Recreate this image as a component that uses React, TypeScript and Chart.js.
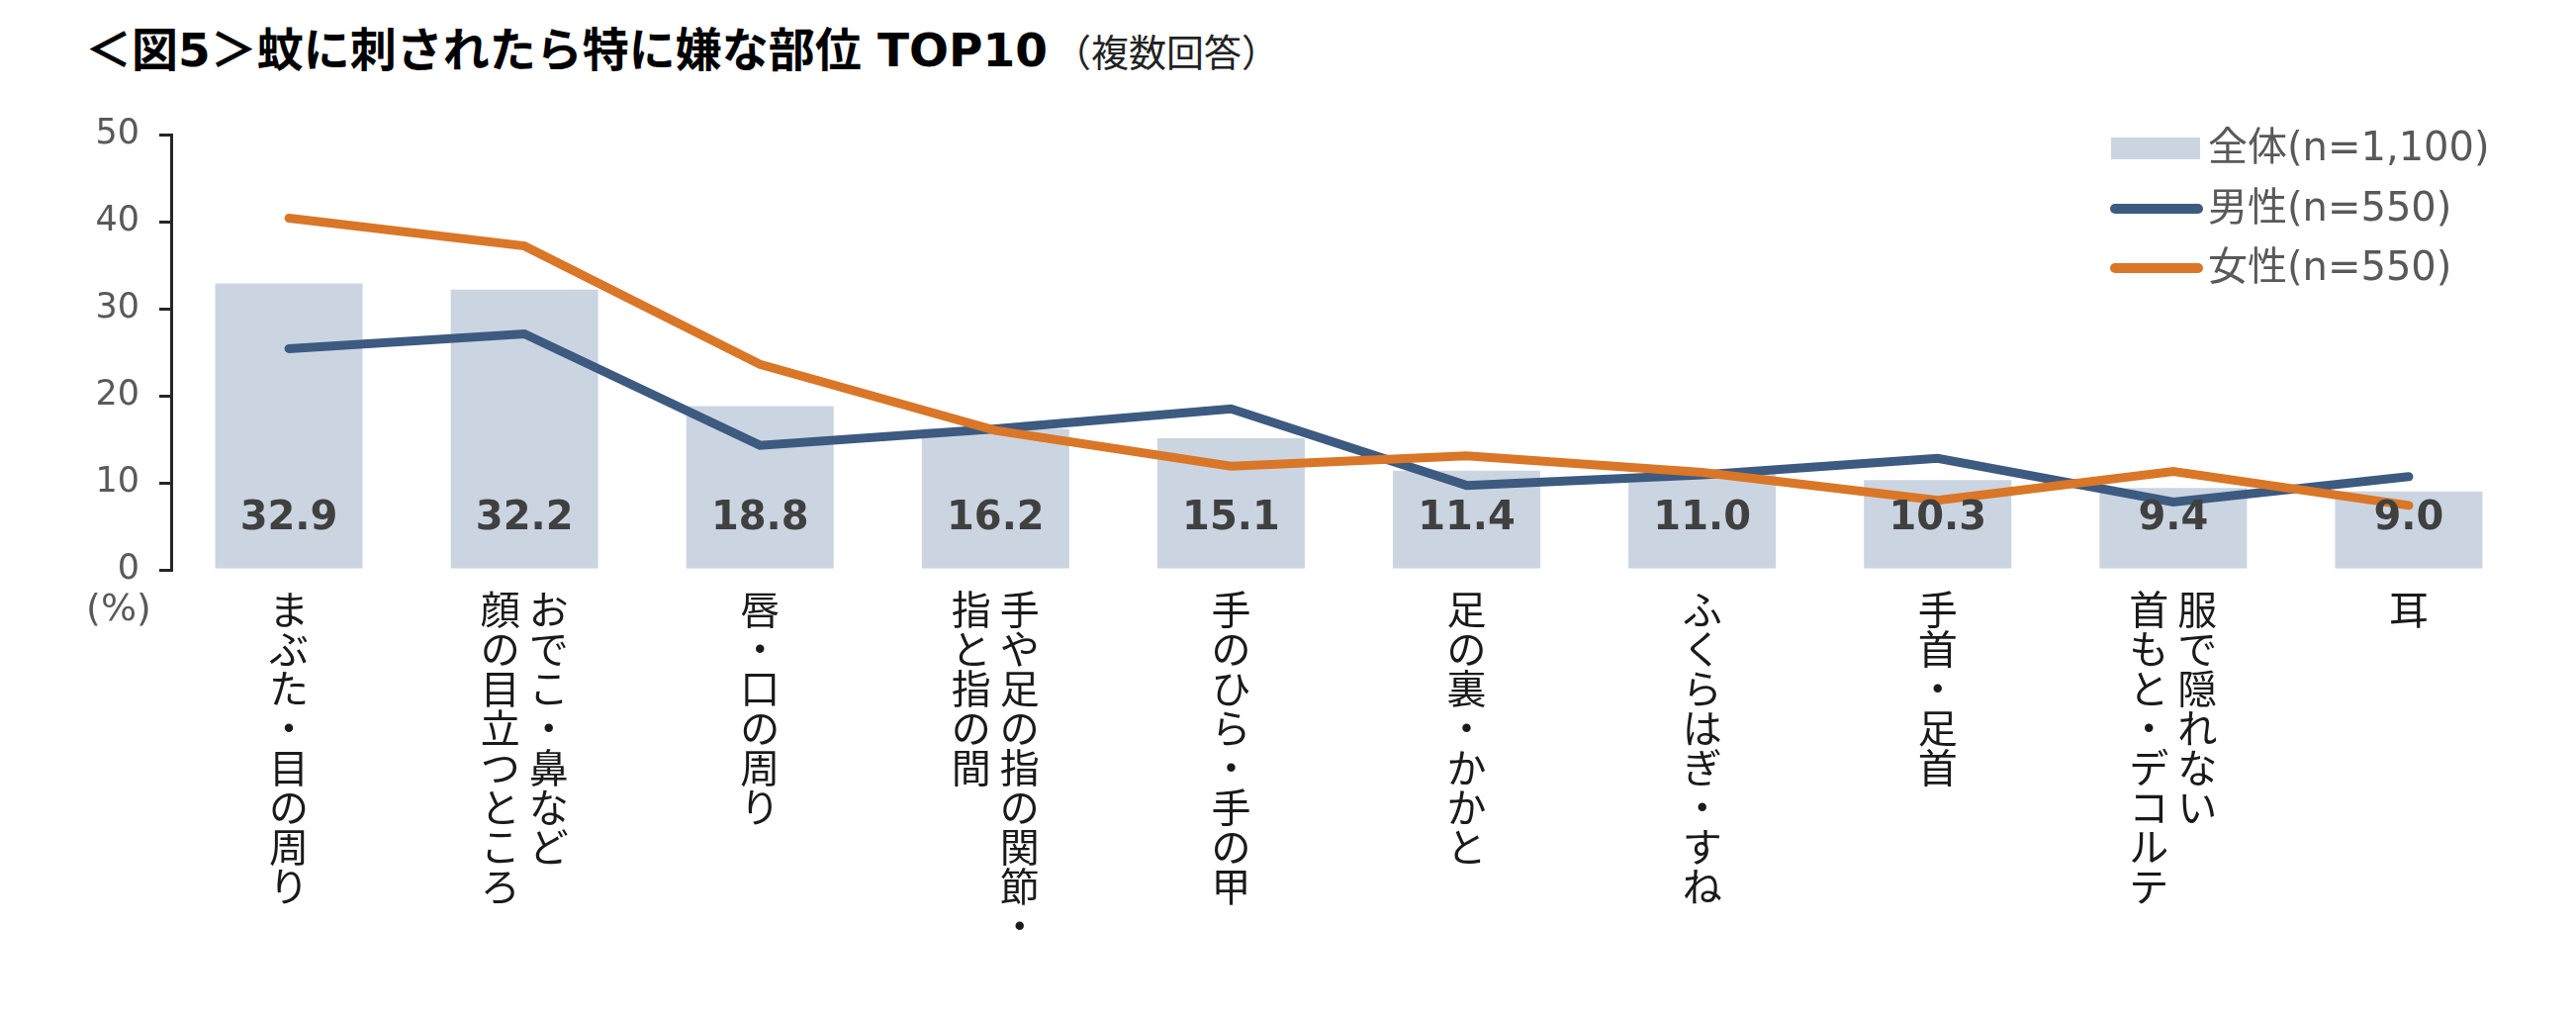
import React, { useEffect, useRef } from 'react';
import { Chart, registerables } from 'chart.js';

Chart.register(...registerables);

// ---- data ----
const categoryColumns: string[][] = [
  ['まぶた・目の周り'],
  ['おでこ・鼻など', '顔の目立つところ'],
  ['唇・口の周り'],
  ['手や足の指の関節・', '指と指の間'],
  ['手のひら・手の甲'],
  ['足の裏・かかと'],
  ['ふくらはぎ・すね'],
  ['手首・足首'],
  ['服で隠れない', '首もと・デコルテ'],
  ['耳'],
];
const totalValues = [32.9, 32.2, 18.8, 16.2, 15.1, 11.4, 11.0, 10.3, 9.4, 9.0];
const maleValues = [25.4, 27.1, 14.3, 16.2, 18.5, 9.7, 10.9, 12.8, 7.8, 10.7];
const femaleValues = [40.4, 37.2, 23.6, 16.0, 11.9, 13.1, 11.2, 8.0, 11.3, 7.4];
const seriesLabels = ['全体(n=1,100)', '男性(n=550)', '女性(n=550)'];
const yTicks = [0, 10, 20, 30, 40, 50];
const titleMain = '＜図5＞蚊に刺されたら特に嫌な部位 TOP10';
const titleSub = '（複数回答）';
const unitLabel = '(%)';

// vertical (tategaki) labels: columns read right-to-left, each row is one "line"
function toVertical(cols: string[]): string[] {
  const chars = cols.map((c) => Array.from(c));
  const n = Math.max(...chars.map((c) => c.length));
  const rows: string[] = [];
  for (let i = 0; i < n; i++) {
    const parts = [...chars].reverse().map((c) => c[i] ?? '\u3000');
    rows.push(parts.join(' '));
  }
  return rows;
}

const BAR_COLOR = '#CBD5E1';
const MALE_COLOR = '#3D5A80';
const FEMALE_COLOR = '#DA7627';

const W = 2604;
const H = 1029;
const AXIS_LEFT = 173;
const AXIS_BOTTOM = 576;

const overlayPlugin = {
  id: 'overlay',
  afterDatasetsDraw(chart: any) {
    const ctx = chart.ctx;
    const y = chart.scales.y;
    const meta = chart.getDatasetMeta(0);
    ctx.save();
    ctx.font = 'bold 40px "DejaVu Sans"';
    ctx.fillStyle = '#404040';
    ctx.textAlign = 'center';
    ctx.textBaseline = 'middle';
    const base = y.getPixelForValue(0);
    meta.data.forEach((bar: any, i: number) => {
      const v = chart.data.datasets[0].data[i] as number;
      ctx.fillText(v.toFixed(1), bar.x, base - 51);
    });
    // unit label
    ctx.font = '38px "DejaVu Sans"';
    ctx.fillStyle = '#595959';
    ctx.fillText(unitLabel, y.right - 53, base + 41);
    ctx.restore();
  },
  afterDraw(chart: any) {
    const ctx = chart.ctx;
    const ds = chart.data.datasets;
    const x0 = 2134;
    const x1 = 2224;
    const textX = 2232;
    const rows = [150, 211, 271];
    ctx.save();
    ctx.font = '40px "DejaVu Sans", "Noto Sans CJK JP"';
    ctx.textAlign = 'left';
    ctx.textBaseline = 'middle';
    ds.forEach((d: any, i: number) => {
      const cy = rows[i];
      if (d.type === 'bar') {
        ctx.fillStyle = d.backgroundColor;
        ctx.fillRect(x0, cy - 11, x1 - x0, 22);
      } else {
        ctx.strokeStyle = d.borderColor;
        ctx.lineWidth = 10;
        ctx.lineCap = 'round';
        ctx.beginPath();
        ctx.moveTo(x0 + 4, cy);
        ctx.lineTo(x1 - 2, cy);
        ctx.stroke();
      }
      ctx.fillStyle = '#595959';
      ctx.fillText(d.label, textX, cy + 2);
    });
    ctx.restore();
  },
};

export default function App() {
  const canvasRef = useRef<HTMLCanvasElement | null>(null);

  useEffect(() => {
    document.body.style.margin = '0';
    const canvas = canvasRef.current;
    if (!canvas) return;
    const chart = new Chart(canvas, {
      type: 'bar',
      data: {
        labels: categoryColumns.map(toVertical),
        datasets: [
          {
            type: 'bar',
            label: seriesLabels[0],
            data: totalValues,
            backgroundColor: BAR_COLOR,
            barPercentage: 0.626,
            categoryPercentage: 1,
            order: 3,
          } as any,
          {
            type: 'line',
            label: seriesLabels[1],
            data: maleValues,
            borderColor: MALE_COLOR,
            backgroundColor: MALE_COLOR,
            borderWidth: 9,
            pointRadius: 0,
            pointHoverRadius: 0,
            borderCapStyle: 'round',
            borderJoinStyle: 'miter',
            tension: 0,
            order: 2,
          } as any,
          {
            type: 'line',
            label: seriesLabels[2],
            data: femaleValues,
            borderColor: FEMALE_COLOR,
            backgroundColor: FEMALE_COLOR,
            borderWidth: 9,
            pointRadius: 0,
            pointHoverRadius: 0,
            borderCapStyle: 'round',
            borderJoinStyle: 'miter',
            tension: 0,
            order: 1,
          } as any,
        ],
      },
      options: {
        responsive: false,
        animation: false,
        devicePixelRatio: 1,
        layout: { padding: { left: 0, top: 136, right: 50, bottom: 0 } },
        plugins: {
          legend: { display: false },
          tooltip: { enabled: false },
          title: { display: false },
        },
        scales: {
          x: {
            offset: true,
            grid: { display: false },
            border: { display: false },
            ticks: {
              autoSkip: false,
              maxRotation: 0,
              minRotation: 0,
              padding: 12,
              color: '#1a1a1a',
              font: { family: '"Noto Sans CJK JP"', size: 40, lineHeight: 1 },
            },
            afterFit(scale: any) {
              scale.height = H - AXIS_BOTTOM;
            },
          },
          y: {
            min: 0,
            max: 50,
            afterBuildTicks(scale: any) {
              scale.ticks = yTicks.map((v) => ({ value: v }));
            },
            grid: {
              display: true,
              drawOnChartArea: false,
              drawTicks: true,
              tickLength: 12,
              color: '#262626',
              lineWidth: 3,
            },
            border: { display: true, color: '#262626', width: 3 },
            ticks: {
              padding: 20,
              color: '#595959',
              font: { family: '"DejaVu Sans"', size: 35 },
            },
            afterFit(scale: any) {
              scale.width = AXIS_LEFT;
            },
          },
        },
      },
      plugins: [overlayPlugin],
    } as any);
    return () => chart.destroy();
  }, []);

  return (
    <div style={{ position: 'absolute', left: 0, top: 0, width: W, height: H, background: '#fff' }}>
      <div
        style={{
          position: 'absolute',
          left: 86,
          top: 25,
          whiteSpace: 'nowrap',
          color: '#000',
          lineHeight: '52px',
          display: 'flex',
          alignItems: 'baseline',
        }}
      >
        <span
          style={{
            fontFamily: '"DejaVu Sans", "Noto Sans CJK JP", sans-serif',
            fontWeight: 'bold',
            fontSize: 47,
          }}
        >
          {titleMain}
        </span>
        <span
          style={{
            fontFamily: '"Noto Sans CJK JP", sans-serif',
            fontSize: 38,
            marginLeft: 6,
            color: '#222',
          }}
        >
          {titleSub}
        </span>
      </div>
      <canvas
        ref={canvasRef}
        width={W}
        height={H}
        style={{ position: 'absolute', left: 0, top: 0, width: W, height: H }}
      />
    </div>
  );
}
